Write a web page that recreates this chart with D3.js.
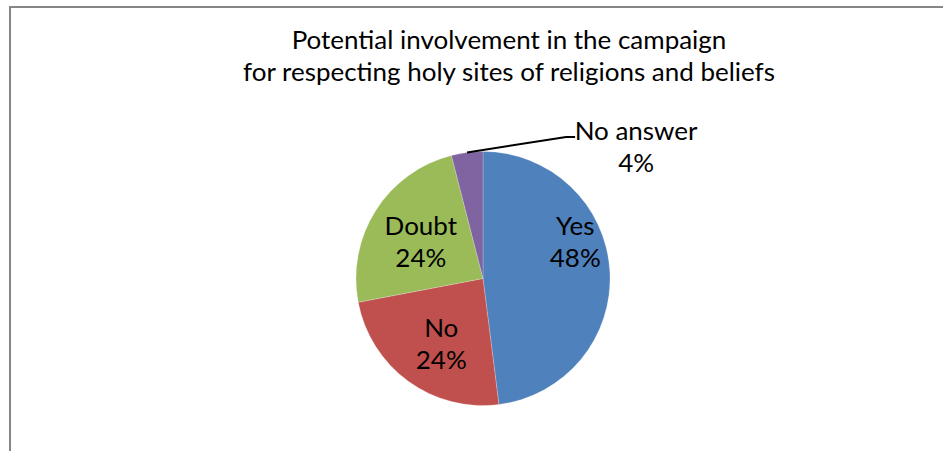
<!DOCTYPE html>
<html>
<head>
<meta charset="utf-8">
<script src="https://cdn.jsdelivr.net/npm/d3@7/dist/d3.min.js"></script>
<style>
  html, body { margin: 0; padding: 0; background: #fff; }
  svg { display: block; }
  text { font-family: Lato, "Open Sans", sans-serif; fill: #000; }
</style>
</head>
<body>
<svg id="chart" width="943" height="451"></svg>
<script>
// Survey answers
const categories = ["Yes", "No", "Doubt", "No answer"];
const values = [48, 24, 24, 4];
const colors = ["#4F81BD", "#C0504D", "#9BBB59", "#8064A2"];
const titleLines = [
  "Potential involvement in the campaign",
  "for respecting holy sites of religions and beliefs"
];

const W = 943, H = 451;
const svg = d3.select("#chart");

// Chart area frame (extends beyond the visible window on the right and bottom)
svg.append("rect")
  .attr("x", 10).attr("y", 7)
  .attr("width", 1000).attr("height", 1000)
  .attr("fill", "#fff")
  .attr("stroke", "#868686")
  .attr("stroke-width", 2);

// Title, sized so the second line spans its intended width
const titleG = svg.append("g");
const titleX = 509;
const lineGap = 32;
const titleTexts = titleG.selectAll("text")
  .data(titleLines)
  .join("text")
  .attr("x", titleX)
  .attr("y", (d, i) => 49 + i * lineGap)
  .attr("text-anchor", "middle")
  .attr("font-size", 26)
  .text(d => d);
const measured = titleTexts.nodes()[1].getComputedTextLength();
const fontSize = 26 * 532 / measured;
titleTexts.attr("font-size", fontSize);

// Pie
const cx = 483, cy = 278.5, radius = 127;
const pie = d3.pie().sort(null).value(d => d.value);
const arcs = pie(categories.map((c, i) => ({ name: c, value: values[i], color: colors[i] })));
const arc = d3.arc().innerRadius(0).outerRadius(radius);
const labelArc = d3.arc().innerRadius(radius * 0.72).outerRadius(radius * 0.72);
const outerArc = d3.arc().innerRadius(radius).outerRadius(radius);

const g = svg.append("g").attr("transform", `translate(${cx},${cy})`);
g.selectAll("path.slice")
  .data(arcs)
  .join("path")
  .attr("class", "slice")
  .attr("d", arc)
  .attr("fill", d => d.data.color)
  .attr("stroke", "rgba(255,255,255,0.35)")
  .attr("stroke-width", 0.6);

// Label placement: nudges from the slice centroid; the small slice gets an outside label
const nudges = {
  "Yes": [1, -38],
  "No": [12, -15.5],
  "Doubt": [15, 5.5]
};
const labelFont = fontSize;

arcs.forEach(d => {
  const lines = [d.data.name, d.data.value + "%"];
  let x, y;
  if (nudges[d.data.name]) {
    const c = labelArc.centroid(d);
    x = c[0] + nudges[d.data.name][0];
    y = c[1] + nudges[d.data.name][1];
  } else {
    // leader line from the slice edge to an outside label
    const p0 = outerArc.centroid(d);
    const p1 = [p0[0] + 99, p0[1] - 15.5];
    const p2 = [p1[0] + 9, p1[1]];
    g.append("polyline")
      .attr("points", [p0, p1, p2].map(p => p.join(",")).join(" "))
      .attr("fill", "none")
      .attr("stroke", "#000")
      .attr("stroke-width", 2);
    x = p2[0] + 61;
    y = p2[1] + 3;
  }
  const t = g.append("text")
    .attr("text-anchor", "middle")
    .attr("font-size", labelFont);
  lines.forEach((ln, i) => {
    t.append("tspan").attr("x", x).attr("y", y + i * lineGap).text(ln);
  });
});
</script>
</body>
</html>
